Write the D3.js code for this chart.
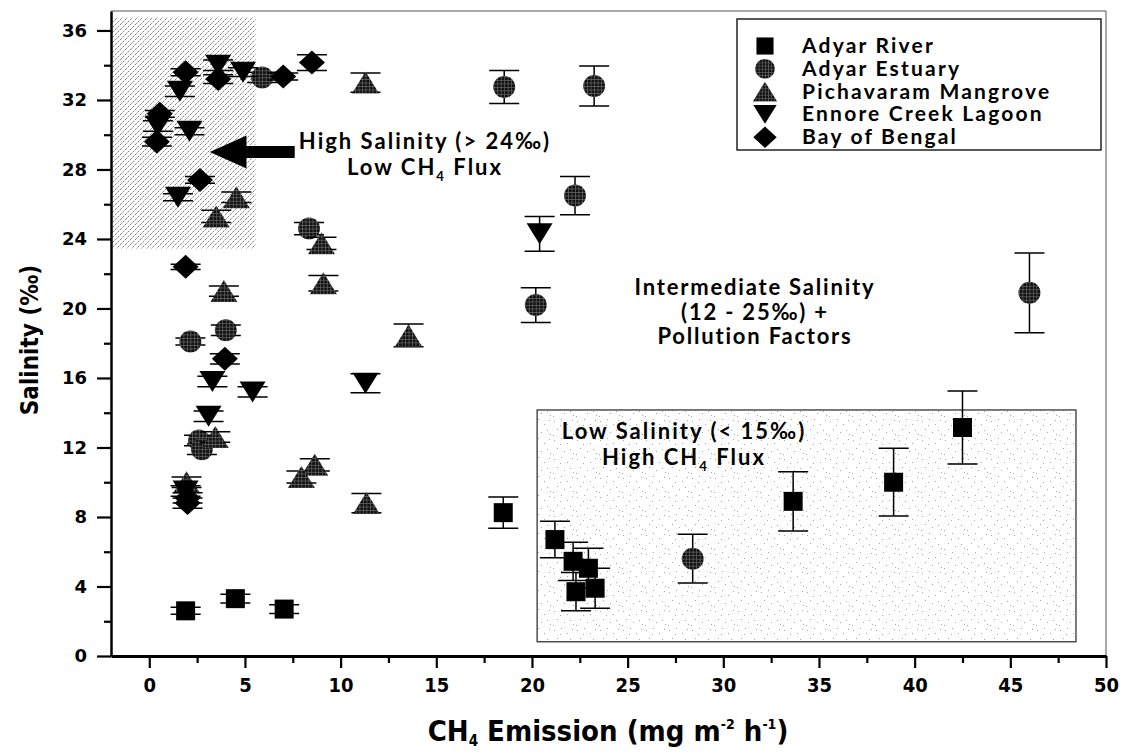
<!DOCTYPE html>
<html>
<head>
<meta charset="utf-8">
<script src="https://cdn.jsdelivr.net/npm/d3@7"></script>
<style>
  body { margin: 0; background: #fff; }
  svg { display: block; }
</style>
</head>
<body>
<svg id="chart" width="1122" height="754"></svg>
<script>
// [CH4 emission, salinity, +/- error on salinity]
const adyarRiver = [
  [1.9, 2.6, 0.2], [4.5, 3.3, 0.25], [7.05, 2.7, 0.25], [18.5, 8.25, 0.9],
  [21.2, 6.7, 1.05], [22.15, 5.45, 1.1], [22.95, 5.05, 1.15], [22.3, 3.7, 1.1],
  [23.3, 3.9, 1.15], [33.65, 8.9, 1.7], [38.9, 10.0, 1.95], [42.5, 13.15, 2.1]
];
const adyarEstuary = [
  [18.55, 32.75, 0.95], [23.25, 32.8, 1.15], [22.25, 26.5, 1.1], [5.9, 33.3, 0.3],
  [8.35, 24.6, 0.35], [2.15, 18.1, 0.2], [4.0, 18.75, 0.3], [2.6, 12.4, 0.3],
  [2.75, 11.9, 0.3], [20.2, 20.2, 1.0], [46.0, 20.9, 2.3], [28.4, 5.6, 1.4]
];
const pichavaram = [
  [11.3, 33.0, 0.55], [4.55, 26.4, 0.3], [3.5, 25.3, 0.35], [9.0, 23.75, 0.35],
  [3.9, 21.0, 0.3], [9.1, 21.45, 0.45], [13.55, 18.45, 0.65], [3.45, 12.6, 0.3],
  [8.65, 11.0, 0.35], [7.95, 10.3, 0.35], [11.35, 8.8, 0.55], [1.95, 10.0, 0.3]
];
const ennoreCreek = [
  [1.6, 32.5, 0.3], [3.6, 34.0, 0.3], [4.9, 33.6, 0.25], [0.45, 30.5, 0.3],
  [2.1, 30.2, 0.2], [1.5, 26.4, 0.2], [20.4, 24.3, 1.0], [3.3, 15.8, 0.3],
  [5.4, 15.2, 0.3], [11.3, 15.7, 0.55], [3.1, 13.8, 0.3], [1.9, 9.5, 0.3]
];
const bayOfBengal = [
  [1.9, 33.6, 0.2], [3.6, 33.2, 0.25], [7.0, 33.35, 0.2], [8.5, 34.15, 0.45],
  [0.55, 31.2, 0.2], [0.4, 29.6, 0.25], [2.65, 27.4, 0.2], [1.9, 22.4, 0.15],
  [3.95, 17.1, 0.3], [2.0, 9.1, 0.3], [2.0, 8.8, 0.3]
];

const seriesNames = ['Adyar River', 'Adyar Estuary', 'Pichavaram Mangrove', 'Ennore Creek Lagoon', 'Bay of Bengal'];
const seriesShapes = ['square', 'circle', 'triangle', 'invTriangle', 'diamond'];
const seriesData = [adyarRiver, adyarEstuary, pichavaram, ennoreCreek, bayOfBengal];

const xMajorTicks = d3.range(0, 51, 5);
const xMinorTicks = d3.range(2.5, 50, 5);
const yMajorTicks = d3.range(0, 37, 4);
const yMinorTicks = d3.range(2, 36, 4);

// shaded zones, in data units
const highZone = { x0: -2, x1: 5.55, y0: 23.45, y1: 36.75 };
const lowZone = { x0: 20.27, x1: 48.43, y0: 0.82, y1: 14.16 };

const svg = d3.select('#chart');
const x = d3.scaleLinear().domain([-2, 50]).range([111, 1106]);
const y = d3.scaleLinear().domain([0, 37.12]).range([656, 11]);

const defs = svg.append('defs');

// dark mesh used by circles and triangles
const mesh = defs.append('pattern')
  .attr('id', 'mesh').attr('width', 3.5).attr('height', 3.5)
  .attr('patternUnits', 'userSpaceOnUse');
mesh.append('rect').attr('width', 3.5).attr('height', 3.5).attr('fill', '#111');
mesh.append('path').attr('d', 'M0,0.4H3.5M0.4,0V3.5')
  .attr('stroke', '#6a6a6a').attr('stroke-width', 0.7);

// diagonal hatch for the high salinity zone
const hatch = defs.append('pattern')
  .attr('id', 'hatch').attr('width', 5).attr('height', 5)
  .attr('patternUnits', 'userSpaceOnUse');
hatch.append('path').attr('d', 'M-1,1L1,-1M0,5L5,0M4,6L6,4')
  .attr('stroke', '#5e5e5e').attr('stroke-width', 0.8)
  .attr('stroke-dasharray', '2.5,1');

// fine stipple for the low salinity zone
const stipple = defs.append('pattern')
  .attr('id', 'stipple').attr('width', 23).attr('height', 19)
  .attr('patternUnits', 'userSpaceOnUse');
[[2, 3], [9, 1], [15, 6], [20, 2], [5, 11], [12, 14], [18, 12], [1, 17], [8, 7], [21, 16]]
  .forEach(([px, py]) => {
    stipple.append('rect').attr('x', px).attr('y', py)
      .attr('width', 1).attr('height', 1).attr('fill', '#a8a8a8');
  });

svg.append('rect').attr('width', 1122).attr('height', 754).attr('fill', '#fff');

// zones
svg.append('rect')
  .attr('x', x(highZone.x0) + 1).attr('y', y(highZone.y1))
  .attr('width', x(highZone.x1) - x(highZone.x0) - 1)
  .attr('height', y(highZone.y0) - y(highZone.y1))
  .attr('fill', 'url(#hatch)');

svg.append('rect')
  .attr('x', x(lowZone.x0)).attr('y', y(lowZone.y1))
  .attr('width', x(lowZone.x1) - x(lowZone.x0))
  .attr('height', y(lowZone.y0) - y(lowZone.y1))
  .attr('fill', 'url(#stipple)')
  .attr('stroke', '#444').attr('stroke-width', 1.4);

// thin frame on top and right
svg.append('path')
  .attr('d', `M${x(-2)},${y(37.12)}H${x(50)}V${y(0)}`)
  .attr('fill', 'none').attr('stroke', '#555').attr('stroke-width', 1);

// axes
const condFont = '"DejaVu Sans Condensed", "DejaVu Sans", sans-serif';
const wideFont = '"DejaVu Sans", sans-serif';

const xAxis = svg.append('g').attr('transform', `translate(0,${y(0)})`)
  .call(d3.axisBottom(x).tickValues(xMajorTicks).tickSize(12).tickPadding(10).tickSizeOuter(0));
svg.append('g').attr('transform', `translate(0,${y(0)})`)
  .call(d3.axisBottom(x).tickValues(xMinorTicks).tickSize(7).tickFormat('').tickSizeOuter(0))
  .select('.domain').remove();

const yAxis = svg.append('g').attr('transform', `translate(${x(-2)},0)`)
  .call(d3.axisLeft(y).tickValues(yMajorTicks).tickSize(14).tickPadding(10).tickSizeOuter(0));
svg.append('g').attr('transform', `translate(${x(-2)},0)`)
  .call(d3.axisLeft(y).tickValues(yMinorTicks).tickSize(7).tickFormat('').tickSizeOuter(0))
  .select('.domain').remove();

svg.selectAll('.tick line').attr('stroke', '#000').attr('stroke-width', 2.2);
xAxis.select('.domain').attr('stroke', '#000').attr('stroke-width', 3);
yAxis.select('.domain').attr('stroke', '#000').attr('stroke-width', 2.5);
xAxis.selectAll('.tick text')
  .attr('font-family', condFont).attr('font-weight', 'bold')
  .attr('font-size', 20).attr('fill', '#000');
yAxis.selectAll('.tick text')
  .attr('font-family', wideFont).attr('font-weight', 'bold')
  .attr('font-size', 18).attr('fill', '#000');

// axis titles
const xTitle = svg.append('text')
  .attr('x', 608).attr('y', 741).attr('text-anchor', 'middle')
  .attr('font-family', condFont).attr('font-weight', 'bold').attr('font-size', 29);
xTitle.append('tspan').text('CH');
xTitle.append('tspan').attr('font-size', 15).attr('dy', 5).text('4');
xTitle.append('tspan').attr('dy', -5).text(' Emission (mg m');
xTitle.append('tspan').attr('font-size', 14).attr('dy', -12).text('-2');
xTitle.append('tspan').attr('dy', 12).text(' h');
xTitle.append('tspan').attr('font-size', 14).attr('dy', -12).text('-1');
xTitle.append('tspan').attr('dy', 12).text(')');

svg.append('text')
  .attr('transform', 'translate(38,340) rotate(-90)')
  .attr('text-anchor', 'middle')
  .attr('font-family', condFont).attr('font-weight', 'bold').attr('font-size', 24)
  .text('Salinity (‰)');

// marker shapes
const shapePath = (shape) => {
  switch (shape) {
    case 'square': return 'M-9.5,-9.5H9.5V9.5H-9.5Z';
    case 'circle': return d3.symbol(d3.symbolCircle, Math.PI * 11 * 11)();
    case 'triangle': return 'M0,-11L13.5,11H-13.5Z';
    case 'invTriangle': return 'M-13,-10.5H13L0,10.5Z';
    case 'diamond': return 'M0,-12L13,0L0,12L-13,0Z';
  }
};
const shapeFill = (shape) => (shape === 'circle' || shape === 'triangle') ? 'url(#mesh)' : '#000';

const marks = svg.append('g');
seriesData.forEach((data, i) => {
  const g = marks.append('g').attr('class', 'series');
  g.selectAll('.err').data(data).join('path')
    .attr('class', 'err')
    .attr('d', d => {
      const cx = x(d[0]), top = y(d[1] + d[2]), bot = y(d[1] - d[2]);
      return `M${cx},${top}V${bot}M${cx - 15},${top}H${cx + 15}M${cx - 15},${bot}H${cx + 15}`;
    })
    .attr('fill', 'none').attr('stroke', '#000').attr('stroke-width', 1.5);
  g.selectAll('.pt').data(data).join('path')
    .attr('class', 'pt')
    .attr('transform', d => `translate(${x(d[0])},${y(d[1])})`)
    .attr('d', shapePath(seriesShapes[i]))
    .attr('fill', shapeFill(seriesShapes[i]));
});

// arrow into the high salinity zone
const arrowY = y(29.0);
const tipX = x(3.16), headX = x(5.08), tailX = x(7.6);
svg.append('path')
  .attr('d', `M${tipX},${arrowY}L${headX},${arrowY - 16.5}V${arrowY - 6}H${tailX}V${arrowY + 6}H${headX}V${arrowY + 16.5}Z`)
  .attr('fill', '#000');

// annotations
const annoFont = 'Lato, "Open Sans", sans-serif';
const annotate = (lines, cx, cy, size, gap, spacing) => {
  const t = svg.append('text')
    .attr('text-anchor', 'middle')
    .attr('font-family', annoFont).attr('font-weight', 'bold')
    .attr('font-size', size).attr('letter-spacing', spacing).attr('fill', '#000');
  lines.forEach((parts, li) => {
    parts.forEach((p, pi) => {
      const ts = t.append('tspan').text(p.text);
      if (pi === 0) ts.attr('x', cx).attr('y', cy + li * gap);
      if (p.sub) ts.attr('font-size', size * 0.6).attr('dy', 6);
      if (p.after) ts.attr('dy', -6);
    });
  });
};

annotate([
  [{ text: 'High Salinity (> 24‰)' }],
  [{ text: 'Low CH' }, { text: '4', sub: true }, { text: ' Flux', after: true }]
], 425, 149, 22, 26, 2);

annotate([
  [{ text: 'Intermediate Salinity' }],
  [{ text: '(12 - 25‰) +' }],
  [{ text: 'Pollution Factors' }]
], 755, 295, 22, 24.5, 1.8);

annotate([
  [{ text: 'Low Salinity (< 15‰)' }],
  [{ text: 'High CH' }, { text: '4', sub: true }, { text: ' Flux', after: true }]
], 684, 439, 22, 26, 2);

// legend
const legend = svg.append('g');
legend.append('rect')
  .attr('x', 737).attr('y', 19).attr('width', 364).attr('height', 131)
  .attr('fill', '#fff').attr('stroke', '#000').attr('stroke-width', 1.3);
seriesNames.forEach((name, i) => {
  const ly = 46 + i * 22.8;
  legend.append('path')
    .attr('transform', `translate(765,${ly}) scale(0.9)`)
    .attr('d', shapePath(seriesShapes[i]))
    .attr('fill', shapeFill(seriesShapes[i]));
  legend.append('text')
    .attr('x', 802).attr('y', ly + 7)
    .attr('font-family', annoFont).attr('font-weight', 'bold')
    .attr('font-size', 21).attr('letter-spacing', 2.2)
    .text(name);
});
</script>
</body>
</html>
